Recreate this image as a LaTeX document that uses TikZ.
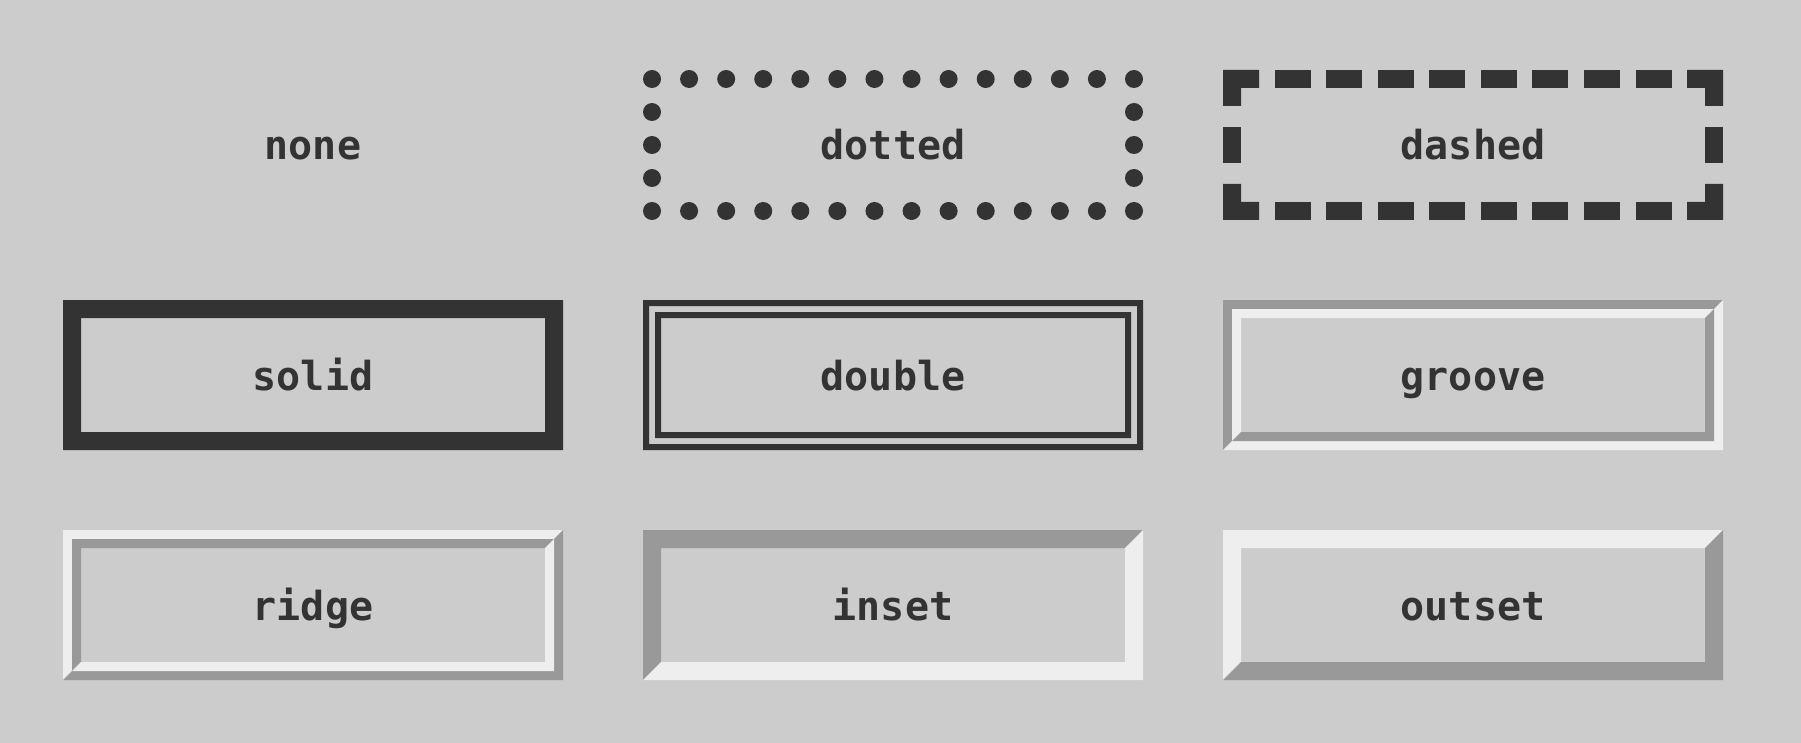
\documentclass[tikz,border=0pt]{standalone}
\usepackage{fontspec}
\newfontfamily\lblfont{DejaVu Sans Mono}
\definecolor{bgc}{HTML}{CCCCCC}
\definecolor{dk}{HTML}{333333}
\definecolor{md}{HTML}{999999}
\definecolor{lt}{HTML}{EEEEEE}
% bevel: x1 y1 x2 y2 width colourTopLeft colourBottomRight
\newcommand\bevelfill[7]{%
  \fill[#6] (#1,#2) -- (#3,#2) -- ({#3-#5},{#2+#5}) -- ({#1+#5},{#2+#5}) -- ({#1+#5},{#4-#5}) -- (#1,#4) -- cycle;
  \fill[#7] (#3,#2) -- (#3,#4) -- (#1,#4) -- ({#1+#5},{#4-#5}) -- ({#3-#5},{#4-#5}) -- ({#3-#5},{#2+#5}) -- cycle;
}
\tikzset{
  lbl/.style={font=\lblfont\bfseries\fontsize{40}{48}\selectfont, text=dk, anchor=base, inner sep=0pt},
}
\begin{document}
\begin{tikzpicture}[x=1pt,y=-1pt]
\fill[bgc] (0,0) rectangle (1801,743);
\useasboundingbox (0,0) rectangle (1801,743);
% ---------- row 1 ----------
% none: no border
\node[lbl] (none) at (313,160) {none};
% dotted
\foreach \k in {0,...,13} {
  \fill[dk] ({652+37.0769*\k},79) circle[radius=9pt];
  \fill[dk] ({652+37.0769*\k},211) circle[radius=9pt];
}
\foreach \yy in {112,145,178} {
  \fill[dk] (652,\yy) circle[radius=9pt];
  \fill[dk] (1134,\yy) circle[radius=9pt];
}
\node[lbl] (dotted) at (893,160) {dotted};
% dashed
\fill[dk] (1223,70) -- (1259,70) -- (1259,88) -- (1241,88) -- (1241,106) -- (1223,106) -- cycle;
\fill[dk] (1723,70) -- (1687,70) -- (1687,88) -- (1705,88) -- (1705,106) -- (1723,106) -- cycle;
\fill[dk] (1223,220) -- (1259,220) -- (1259,202) -- (1241,202) -- (1241,184) -- (1223,184) -- cycle;
\fill[dk] (1723,220) -- (1687,220) -- (1687,202) -- (1705,202) -- (1705,184) -- (1723,184) -- cycle;
\foreach \k in {0,...,7} {
  \fill[dk] ({1274.56+51.56*\k},70) rectangle ({1310.56+51.56*\k},88);
  \fill[dk] ({1274.56+51.56*\k},202) rectangle ({1310.56+51.56*\k},220);
}
\fill[dk] (1223,127) rectangle (1241,163);
\fill[dk] (1705,127) rectangle (1723,163);
\node[lbl] (dashed) at (1473,160) {dashed};
% ---------- row 2 ----------
% solid
\fill[dk, even odd rule] (63,300) rectangle (563,450) (81,318) rectangle (545,432);
\node[lbl] (solid) at (313,390) {solid};
% double
\fill[dk, even odd rule] (643,300) rectangle (1143,450) (649,306) rectangle (1137,444);
\fill[dk, even odd rule] (655,312) rectangle (1131,438) (661,318) rectangle (1125,432);
\node[lbl] (double) at (893,390) {double};
% groove
\bevelfill{1223}{300}{1723}{450}{9}{md}{lt}
\bevelfill{1232}{309}{1714}{441}{9}{lt}{md}
\node[lbl] (groove) at (1473,390) {groove};
% ---------- row 3 ----------
% ridge
\bevelfill{63}{530}{563}{680}{9}{lt}{md}
\bevelfill{72}{539}{554}{671}{9}{md}{lt}
\node[lbl] (ridge) at (313,620) {ridge};
% inset
\bevelfill{643}{530}{1143}{680}{18}{md}{lt}
\node[lbl] (inset) at (893,620) {inset};
% outset
\bevelfill{1223}{530}{1723}{680}{18}{lt}{md}
\node[lbl] (outset) at (1473,620) {outset};
\end{tikzpicture}
\end{document}
